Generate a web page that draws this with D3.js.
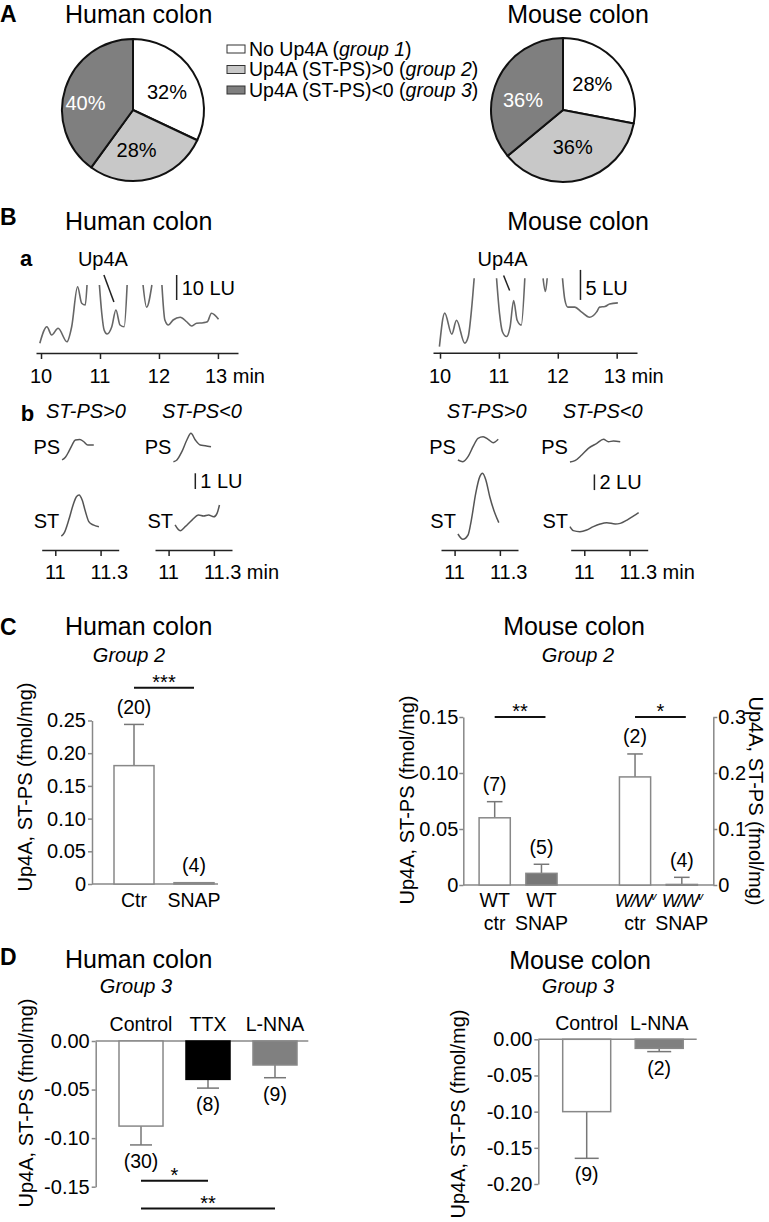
<!DOCTYPE html>
<html>
<head>
<meta charset="utf-8">
<script src="https://cdn.jsdelivr.net/npm/d3@7"></script>
<style>
  body { margin: 0; background: #fff; }
  svg { font-family: "Liberation Sans", Arial, Helvetica, sans-serif; }
</style>
</head>
<body>
<div id="graph_box"></div>
<script>
// ---------- data ----------
// A: share of samples in each group (%)
var pieGroups = ["No Up4A", "Up4A (ST-PS)>0", "Up4A (ST-PS)<0"];
var pieGroupTags = ["group 1", "group 2", "group 3"];
var pieHuman = [32, 28, 40];
var pieMouse = [28, 36, 36];

// B a: chromatograms (min, LU); null = trace runs off scale
var chromTicks = [10, 11, 12, 13];
var humanChromTime = [9.98, 10.10, 10.18, 10.29, 10.44, 10.52, 10.62, 10.69, 10.75, 10.78, null,
  10.99, 11.03, 11.07, 11.12, 11.20, 11.27, 11.34, 11.41, 11.46, null,
  11.73, 11.79, 11.88, null,
  12.05, 12.10, 12.16, 12.24, 12.36, 12.47, 12.55, 12.64, 12.75, 12.82, 12.89, 13.01];
var humanChromLU = [3.9, 10.5, 7.2, 9.9, 4.5, 10.5, 26.5, 19.9, 19.2, 27.2, null,
  27.2, 15.9, 9.2, 7.6, 10.5, 17.2, 11.2, 10.5, 27.2, null,
  27.2, 18.3, 27.2, null,
  27.2, 13.2, 11.2, 13.2, 14.3, 12.5, 10.8, 11.9, 12.1, 12.5, 15.9, 13.5];
var mouseChromTime = [9.99, 10.08, 10.20, 10.28, 10.42, 10.48, 10.54, 10.58, null,
  10.96, 11.01, 11.06, 11.13, 11.19, 11.25, 11.31, 11.38, 11.44, null,
  11.75, 11.79, 11.82, null,
  12.08, 12.12, 12.17, 12.29, 12.40, 12.54, 12.66, 12.71, 12.80, 12.88, 13.02];
var mouseChromLU = [1.0, 6.6, 3.1, 5.4, 1.6, 2.7, 7.7, 12.4, null,
  12.4, 6.6, 3.5, 2.7, 4.3, 8.7, 5.4, 4.6, 12.4, null,
  12.4, 10.2, 12.4, null,
  12.4, 8.8, 7.6, 7.6, 6.8, 5.9, 6.8, 7.6, 7.7, 8.1, 8.3];

// B b: PS and ST traces around the Up4A peak (min, LU)
var miniTicks = [11, 11.3];
var humanPosPS_t = [11.045, 11.067, 11.089, 11.111, 11.133, 11.162, 11.189, 11.215, 11.255];
var humanPosPS_v = [0.13, 0.30, 0.66, 1.08, 1.40, 1.44, 1.29, 1.08, 1.08];
var humanPosST_t = [11.040, 11.060, 11.089, 11.118, 11.140, 11.158, 11.178, 11.200, 11.222, 11.251, 11.289];
var humanPosST_v = [0.25, 0.47, 1.27, 2.23, 2.76, 2.87, 2.55, 1.80, 1.17, 0.96, 0.85];
var humanNegPS_t = [11.032, 11.055, 11.088, 11.121, 11.148, 11.177, 11.210, 11.243, 11.281];
var humanNegPS_v = [0.02, 0.13, 0.66, 1.40, 1.83, 1.40, 1.08, 1.04, 0.97];
var humanNegST_t = [11.043, 11.077, 11.110, 11.155, 11.199, 11.232, 11.265, 11.299, 11.321, 11.337];
var humanNegST_v = [0.96, 0.59, 0.85, 1.27, 1.59, 1.53, 1.59, 1.48, 1.70, 2.23];
var mousePosPS_t = [11.022, 11.055, 11.089, 11.122, 11.155, 11.189, 11.222, 11.255, 11.289];
var mousePosPS_v = [0.26, 0.04, 0.68, 1.96, 3.04, 3.24, 2.91, 2.47, 2.91];
var mousePosST_t = [11.022, 11.055, 11.089, 11.111, 11.140, 11.167, 11.185, 11.207, 11.233, 11.267, 11.293];
var mousePosST_v = [0.77, 0.09, 0.64, 2.56, 5.99, 8.12, 8.55, 7.69, 5.55, 3.42, 2.22];
var mouseNegPS_t = [10.905, 10.938, 10.983, 11.027, 11.083, 11.127, 11.160, 11.193, 11.238];
var mouseNegPS_v = [0.0, 0.17, 0.90, 1.75, 2.39, 2.91, 2.60, 2.69, 2.60];
var mouseNegST_t = [10.905, 10.927, 10.971, 11.016, 11.060, 11.105, 11.149, 11.205, 11.238, 11.283, 11.327, 11.360];
var mouseNegST_v = [1.71, 1.20, 1.07, 1.28, 1.71, 2.05, 2.22, 2.05, 2.13, 2.56, 3.08, 3.50];

// C: group 2, Up4A ST-PS (fmol/mg)
var hcCats = ["Ctr", "SNAP"];
var hcMean = [0.181, 0.002];
var hcErr = [0.063, 0.0];
var hcN = ["(20)", "(4)"];
var hcTicks = [0, 0.05, 0.10, 0.15, 0.20, 0.25];
var hcSig = [["Ctr", "SNAP", "***"]];

var mcCats = [["WT", "ctr"], ["WT", "SNAP"], ["W/Wv", "ctr"], ["W/Wv", "SNAP"]];
var mcMean = [0.060, 0.0104, 0.193, 0.001];
var mcErr = [0.0144, 0.0081, 0.041, 0.0127];
var mcN = ["(7)", "(5)", "(2)", "(4)"];
var mcAxis = ["left", "left", "right", "right"];
var mcTicksLeft = [0, 0.05, 0.10, 0.15];
var mcTicksRight = [0, 0.1, 0.2, 0.3];
var mcSig = [[0, 1, "**"], [2, 3, "*"]];

// D: group 3
var hdCats = ["Control", "TTX", "L-NNA"];
var hdMean = [-0.0876, -0.0395, -0.0247];
var hdErr = [0.0194, 0.009, 0.0131];
var hdN = ["(30)", "(8)", "(9)"];
var hdTicks = [0, -0.05, -0.10, -0.15];
var hdSig = [["Control", "TTX", "*"], ["Control", "L-NNA", "**"]];

var mdCats = ["Control", "L-NNA"];
var mdMean = [-0.100, -0.0125];
var mdErr = [0.0645, 0.0045];
var mdN = ["(9)", "(2)"];
var mdTicks = [0, -0.05, -0.10, -0.15, -0.20];

// ---------- drawing ----------
var svg = d3.select("#graph_box").append("svg")
    .attr("width", 769)
    .attr("height", 1222);
svg.append("rect").attr("width", 769).attr("height", 1222).attr("fill", "#fff");

function addText(x, y, s, size, o) {
    o = o || {};
    var t = svg.append("text").attr("x", x).attr("y", y).attr("font-size", size).text(s);
    if (o.anchor) t.attr("text-anchor", o.anchor);
    if (o.bold) t.attr("font-weight", "bold");
    if (o.italic) t.attr("font-style", "italic");
    if (o.rotate) t.attr("transform", "rotate(" + o.rotate + "," + x + "," + y + ")").attr("dominant-baseline", "central");
    return t;
}

// panel letters and titles
addText(0, 22, "A", 23, { bold: true });
addText(65, 23, "Human colon", 25);
addText(578, 23, "Mouse colon", 25, { anchor: "middle" });
addText(0, 225, "B", 23, { bold: true });
addText(65, 230, "Human colon", 25);
addText(578, 230, "Mouse colon", 25, { anchor: "middle" });
addText(0, 635, "C", 23, { bold: true });
addText(65, 635, "Human colon", 25);
addText(574, 635, "Mouse colon", 25, { anchor: "middle" });
addText(129, 662, "Group 2", 20, { anchor: "middle", italic: true });
addText(578, 662, "Group 2", 20, { anchor: "middle", italic: true });
addText(0, 965, "D", 23, { bold: true });
addText(65, 968, "Human colon", 25);
addText(580, 969, "Mouse colon", 25, { anchor: "middle" });
addText(136, 993, "Group 3", 20, { anchor: "middle", italic: true });
addText(578, 993, "Group 3", 20, { anchor: "middle", italic: true });

// ---- A: pies ----
var pieFills = ["#ffffff", "#c8c8c8", "#7f7f7f"];
var pieTextFill = ["#000", "#000", "#fff"];

function drawPie(cx, cy, r, values, nudge) {
    var g = svg.append("g").attr("transform", "translate(" + cx + "," + cy + ")");
    var arcs = d3.pie().sort(null)(values);
    var arc = d3.arc().innerRadius(0).outerRadius(r);
    var labelArc = d3.arc().innerRadius(r * 0.6).outerRadius(r * 0.6);
    g.selectAll("path")
        .data(arcs)
        .enter()
        .append("path")
        .attr("d", arc)
        .attr("fill", function (d, i) { return pieFills[i]; })
        .attr("stroke", "#111")
        .attr("stroke-width", 2)
        .attr("stroke-linejoin", "round");
    g.selectAll("text")
        .data(arcs)
        .enter()
        .append("text")
        .attr("x", function (d, i) { return labelArc.centroid(d)[0] + nudge[i][0]; })
        .attr("y", function (d, i) { return labelArc.centroid(d)[1] + nudge[i][1]; })
        .attr("text-anchor", "middle")
        .attr("dy", "0.35em")
        .attr("font-size", 20)
        .attr("fill", function (d, i) { return pieTextFill[i]; })
        .text(function (d) { return d.data + "%"; });
}
drawPie(133, 110, 71, pieHuman, [[-2, 5], [-7, -1], [-7, 6]]);
drawPie(563, 110, 72, pieMouse, [[-4, 2], [-1, -5], [-1, 8]]);

pieGroups.forEach(function (name, i) {
    var cy = 49 + i * 20.5;
    svg.append("rect").attr("x", 227).attr("y", cy - 4).attr("width", 18).attr("height", 8)
        .attr("fill", pieFills[i]).attr("stroke", "#333").attr("stroke-width", 1);
    var t = svg.append("text").attr("x", 249).attr("y", cy).attr("dy", "0.35em").attr("font-size", 19.5);
    t.append("tspan").text(name + " (");
    t.append("tspan").attr("font-style", "italic").text(pieGroupTags[i]);
    t.append("tspan").text(")");
});

// ---- B a: chromatograms ----
function drawChrom(c) {
    var x = d3.scaleLinear().domain(c.xDomain).range(c.xRange);
    var y = d3.scaleLinear().domain([0, 1]).range([c.y0, c.y0 - c.pxPerLU]);
    var pts = c.time.map(function (t, i) { return { t: t, v: c.lu[i] }; });
    var line = d3.line()
        .defined(function (d) { return d.v != null; })
        .x(function (d) { return x(d.t); })
        .y(function (d) { return y(d.v); })
        .curve(d3.curveMonotoneX);
    svg.append("path").datum(pts).attr("d", line)
        .attr("fill", "none").attr("stroke", "#666").attr("stroke-width", 1.6);

    var ax = svg.append("g").attr("transform", "translate(0," + c.axisY + ")")
        .call(d3.axisBottom(x).tickValues(chromTicks).tickSize(6).tickSizeOuter(0).tickFormat(""));
    ax.select(".domain").attr("stroke", "#222").attr("stroke-width", 1.5);
    ax.selectAll(".tick line").attr("stroke", "#222").attr("stroke-width", 1.5);
    chromTicks.forEach(function (t, i) {
        var last = i === chromTicks.length - 1;
        addText(last ? x(t) - 13 : x(t), c.axisY + 30, last ? t + " min" : String(t), 20,
            { anchor: last ? "start" : "middle" });
    });

    // scale bar
    svg.append("line")
        .attr("x1", x(c.barT)).attr("x2", x(c.barT))
        .attr("y1", y(c.barLU)).attr("y2", y(c.barLU + c.barSize))
        .attr("stroke", "#222").attr("stroke-width", 1.5);
    addText(x(c.barT) + 5, y(c.barLU) - 5, c.barSize + " LU", 20);

    // Up4A marker
    var px = x(c.peakT), py = y(c.peakLU);
    svg.append("line")
        .attr("x1", px + c.ptr[0]).attr("y1", py + c.ptr[1])
        .attr("x2", px + c.ptr[2]).attr("y2", py + c.ptr[3])
        .attr("stroke", "#222").attr("stroke-width", 1.5);
    addText(px + c.ptr[0] - 1, 266, "Up4A", 20, { anchor: "middle" });
}

drawChrom({
    time: humanChromTime, lu: humanChromLU,
    xDomain: [9.915, 13.34], xRange: [36, 238], y0: 353, pxPerLU: 2.5, axisY: 353,
    barT: 12.3, barLU: 21.2, barSize: 10, peakT: 11.27, peakLU: 17.2, ptr: [-12, -35, -2, -8]
});
drawChrom({
    time: mouseChromTime, lu: mouseChromLU,
    xDomain: [9.881, 13.345], xRange: [433, 637], y0: 352.7, pxPerLU: 6, axisY: 352.7,
    barT: 12.385, barLU: 8.8, barSize: 5, peakT: 11.25, peakLU: 8.7, ptr: [-10, -25, -4, -10]
});
addText(20, 266, "a", 22, { bold: true });

// ---- B b: PS / ST traces ----
function drawMini(c) {
    var x = d3.scaleLinear().domain([10.91, 11.42]).range([c.x0, c.x0 + 77]);
    var rows = [{ t: c.psT, v: c.psV, base: 462, name: "PS", ty: 454 },
                { t: c.stT, v: c.stV, base: 540, name: "ST", ty: 528 }];
    rows.forEach(function (r) {
        var y = d3.scaleLinear().domain([0, 1]).range([r.base, r.base - c.ppl]);
        var pts = r.t.map(function (t, i) { return [x(t), y(r.v[i])]; });
        svg.append("path").datum(pts)
            .attr("d", d3.line().curve(d3.curveMonotoneX))
            .attr("fill", "none").attr("stroke", "#555").attr("stroke-width", 1.5);
        addText(x(r.t[0]) - 2, r.ty, r.name, 20, { anchor: "end" });
        r.y = y;
    });
    var ax = svg.append("g").attr("transform", "translate(0,550)")
        .call(d3.axisBottom(x).tickValues(miniTicks).tickSize(6).tickSizeOuter(0).tickFormat(""));
    ax.select(".domain").attr("stroke", "#222").attr("stroke-width", 1.5);
    ax.selectAll(".tick line").attr("stroke", "#222").attr("stroke-width", 1.5);
    addText(x(11), 579, "11", 20, { anchor: "middle" });
    addText(x(11.3) - 10, 579, c.unit ? "11.3 min" : "11.3", 20);
    addText(c.x0 + c.titleDx, 418, c.title, 20, { italic: true });
    if (c.barSize) {
        var y = rows[1].y;
        svg.append("line")
            .attr("x1", x(c.barT)).attr("x2", x(c.barT))
            .attr("y1", y(c.barLU)).attr("y2", y(c.barLU + c.barSize))
            .attr("stroke", "#222").attr("stroke-width", 1.5);
        addText(x(c.barT) + 5, y(c.barLU) - 1, c.barSize + " LU", 20);
    }
}
drawMini({ x0: 41.7, ppl: 15.7, psT: humanPosPS_t, psV: humanPosPS_v, stT: humanPosST_t, stV: humanPosST_v,
    title: "ST-PS>0", titleDx: 4.3 });
drawMini({ x0: 155, ppl: 15.7, psT: humanNegPS_t, psV: humanNegPS_v, stT: humanNegST_t, stV: humanNegST_v,
    title: "ST-PS<0", titleDx: 7, unit: true, barT: 11.177, barLU: 3.25, barSize: 1 });
drawMini({ x0: 441, ppl: 7.8, psT: mousePosPS_t, psV: mousePosPS_v, stT: mousePosST_t, stV: mousePosST_v,
    title: "ST-PS>0", titleDx: 5.7 });
drawMini({ x0: 570.7, ppl: 7.8, psT: mouseNegPS_t, psV: mouseNegPS_v, stT: mouseNegST_t, stV: mouseNegST_v,
    title: "ST-PS<0", titleDx: -8, unit: true, barT: 11.067, barLU: 6.4, barSize: 2 });
addText(20.7, 421, "b", 22, { bold: true });

// ---- C, D: bar charts ----
function styleAxis(g) {
    g.attr("font-size", null).attr("font-family", null);
    g.selectAll(".domain, .tick line").attr("stroke", "#888").attr("stroke-width", 1.5);
    g.selectAll(".tick text").attr("font-size", 20).attr("fill", "#000");
}

function drawBars(rows) {
    rows.forEach(function (d) {
        var y = d.y, top = y(Math.max(d.mean, 0)), bot = y(Math.min(d.mean, 0));
        var cx = d.x + d.w / 2;
        var end = d.mean >= 0 ? y(d.mean + d.err) : y(d.mean - d.err);
        var from = y(d.mean);
        if (d.err > 0) {
            svg.append("line").attr("x1", cx).attr("x2", cx).attr("y1", from).attr("y2", end)
                .attr("stroke", "#777").attr("stroke-width", 1.5);
            svg.append("line").attr("x1", cx - d.w / 4).attr("x2", cx + d.w / 4).attr("y1", end).attr("y2", end)
                .attr("stroke", "#777").attr("stroke-width", 1.5);
        }
        svg.append("rect").attr("x", d.x).attr("y", top).attr("width", d.w).attr("height", Math.max(bot - top, 0.8))
            .attr("fill", d.fill).attr("stroke", d.fill === "#000" ? "#000" : "#888").attr("stroke-width", 1.5);
        addText(cx, d.mean >= 0 ? end - 10.5 : end + 23, d.n, 19.5, { anchor: "middle" });
    });
}

function sigLine(x1, x2, y, s) {
    svg.append("line").attr("x1", x1).attr("x2", x2).attr("y1", y).attr("y2", y)
        .attr("stroke", "#111").attr("stroke-width", 2);
    addText((x1 + x2) / 2, y + 1, s, 20, { anchor: "middle" });
}

function fmt2(d) { return d === 0 ? "0" : d.toFixed(2); }

// human C
var yHC = d3.scaleLinear().domain([0, 0.25]).range([884, 720.5]);
var xHC = d3.scaleBand().domain(hcCats).range([104, 224]).paddingInner(1 / 3).paddingOuter(1 / 6);
styleAxis(svg.append("g").attr("transform", "translate(92,0)")
    .call(d3.axisLeft(yHC).tickValues(hcTicks).tickSize(4).tickPadding(2).tickSizeOuter(0).tickFormat(fmt2)));
svg.append("line").attr("x1", 92).attr("x2", 218).attr("y1", yHC(0)).attr("y2", yHC(0))
    .attr("stroke", "#888").attr("stroke-width", 1.5);
drawBars(hcCats.map(function (c, i) {
    return { x: xHC(c), w: xHC.bandwidth(), y: yHC, mean: hcMean[i], err: hcErr[i],
        fill: ["#fff", "#777"][i], n: hcN[i] };
}));
hcCats.forEach(function (c) { addText(xHC(c) + xHC.bandwidth() / 2, yHC(0) + 22.5, c, 19.5, { anchor: "middle" }); });
hcSig.forEach(function (s) {
    sigLine(xHC(s[0]) + xHC.bandwidth() / 2, xHC(s[1]) + xHC.bandwidth() / 2, yHC(0.30), s[2]);
});
addText(25, 787, "Up4A, ST-PS (fmol/mg)", 20, { anchor: "middle", rotate: -90 });

// mouse C (WT on left axis, W/Wv on right axis)
var yMCL = d3.scaleLinear().domain([0, 0.15]).range([885, 717]);
var yMCR = d3.scaleLinear().domain([0, 0.3]).range([885, 717]);
var mcSlot = [0, 1, 3, 4];
var xMC = d3.scaleBand().domain([0, 1, 2, 3, 4]).range([463.5, 713]).paddingInner(1 / 3).paddingOuter(1 / 3);
styleAxis(svg.append("g").attr("transform", "translate(463.3,0)")
    .call(d3.axisLeft(yMCL).tickValues(mcTicksLeft).tickSize(4).tickPadding(1).tickSizeOuter(0).tickFormat(fmt2)));
styleAxis(svg.append("g").attr("transform", "translate(713.3,0)")
    .call(d3.axisRight(yMCR).tickValues(mcTicksRight).tickSize(4).tickPadding(1).tickSizeOuter(0)
        .tickFormat(function (d) { return d === 0 ? "0" : d.toFixed(1); })));
svg.append("line").attr("x1", 463.3).attr("x2", 713.3).attr("y1", 885).attr("y2", 885)
    .attr("stroke", "#888").attr("stroke-width", 1.5);
drawBars(mcCats.map(function (c, i) {
    return { x: xMC(mcSlot[i]), w: xMC.bandwidth(), y: mcAxis[i] === "left" ? yMCL : yMCR,
        mean: mcMean[i], err: mcErr[i], fill: i % 2 ? "#777" : "#fff", n: mcN[i] };
}));
mcCats.forEach(function (c, i) {
    var cx = xMC(mcSlot[i]) + xMC.bandwidth() / 2;
    if (c[0] === "W/Wv") {
        var t = svg.append("text").attr("x", cx).attr("y", 907).attr("text-anchor", "middle")
            .attr("font-size", 18.5).attr("font-style", "italic").attr("letter-spacing", -1.3);
        t.append("tspan").text("W/W");
        t.append("tspan").attr("font-size", 11).attr("dy", -7).text("v");
    } else {
        addText(cx, 907, c[0], 19.5, { anchor: "middle" });
    }
    addText(cx, 930, c[1], 19.5, { anchor: "middle" });
});
mcSig.forEach(function (s) {
    sigLine(xMC(mcSlot[s[0]]) + xMC.bandwidth() / 2, xMC(mcSlot[s[1]]) + xMC.bandwidth() / 2 + 4, yMCL(0.15), s[2]);
});
addText(407, 800, "Up4A, ST-PS (fmol/mg)", 20, { anchor: "middle", rotate: -90 });
addText(756, 801, "Up4A, ST-PS (fmol/mg)", 20, { anchor: "middle", rotate: 90 });

// human D
var yHD = d3.scaleLinear().domain([-0.15, 0]).range([1186.7, 1041]);
var xHD = d3.scaleBand().domain(hdCats).range([105.6, 310.4]).paddingInner(0.343).paddingOuter(0.2);
styleAxis(svg.append("g").attr("transform", "translate(95.7,0)")
    .call(d3.axisLeft(yHD).tickValues(hdTicks).tickSize(4).tickPadding(2).tickSizeOuter(0)
        .tickFormat(function (d) { return d.toFixed(2); })));
svg.append("line").attr("x1", 95.7).attr("x2", 308.3).attr("y1", yHD(0)).attr("y2", yHD(0))
    .attr("stroke", "#888").attr("stroke-width", 1.5);
drawBars(hdCats.map(function (c, i) {
    return { x: xHD(c), w: xHD.bandwidth(), y: yHD, mean: hdMean[i], err: hdErr[i],
        fill: ["#fff", "#000", "#808080"][i], n: hdN[i] };
}));
hdCats.forEach(function (c) { addText(xHD(c) + xHD.bandwidth() / 2, yHD(0) - 10, c, 19.5, { anchor: "middle" }); });
hdSig.forEach(function (s, i) {
    sigLine(xHD(s[0]) + xHD.bandwidth() / 2, xHD(s[1]) + xHD.bandwidth() / 2, yHD([-0.144, -0.1725][i]), s[2]);
});
addText(26, 1103, "Up4A, ST-PS (fmol/mg)", 20, { anchor: "middle", rotate: -90 });

// mouse D
var yMD = d3.scaleLinear().domain([-0.2, 0]).range([1184, 1039.3]);
var xMD = d3.scaleBand().domain(mdCats).range([540.95, 704.95]).paddingInner(0.338).paddingOuter(0.3);
styleAxis(svg.append("g").attr("transform", "translate(538.3,0)")
    .call(d3.axisLeft(yMD).tickValues(mdTicks).tickSize(4).tickPadding(2).tickSizeOuter(0)
        .tickFormat(function (d) { return d.toFixed(2); })));
svg.append("line").attr("x1", 538.3).attr("x2", 696.7).attr("y1", yMD(0)).attr("y2", yMD(0))
    .attr("stroke", "#888").attr("stroke-width", 1.5);
drawBars(mdCats.map(function (c, i) {
    return { x: xMD(c), w: xMD.bandwidth(), y: yMD, mean: mdMean[i], err: mdErr[i],
        fill: ["#fff", "#808080"][i], n: mdN[i] };
}));
mdCats.forEach(function (c) { addText(xMD(c) + xMD.bandwidth() / 2, yMD(0) - 9, c, 19.5, { anchor: "middle" }); });
addText(458, 1114, "Up4A, ST-PS (fmol/mg)", 20, { anchor: "middle", rotate: -90 });
</script>
</body>
</html>
